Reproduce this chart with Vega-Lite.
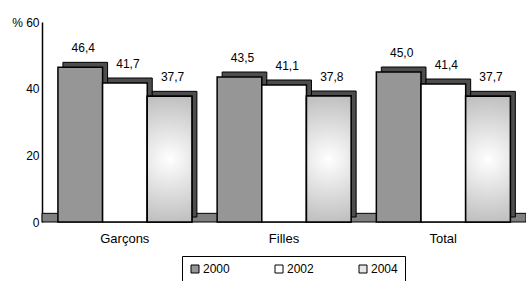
{
  "$schema": "https://vega.github.io/schema/vega-lite/v6.json",
  "width": 484,
  "height": 200,
  "autosize": {"type": "none"},
  "padding": {"left": 42, "top": 22, "right": 0, "bottom": 59},
  "background": "white",
  "config": {
    "font": "Liberation Sans",
    "view": {"stroke": null},
    "locale": {"number": {"decimal": ",", "thousands": " ", "grouping": [3], "currency": ["", " €"]}}
  },
  "data": {
    "values": [
      {"cat": "Garçons", "year": "2000", "value": 46.4},
      {"cat": "Garçons", "year": "2002", "value": 41.7},
      {"cat": "Garçons", "year": "2004", "value": 37.7},
      {"cat": "Filles", "year": "2000", "value": 43.5},
      {"cat": "Filles", "year": "2002", "value": 41.1},
      {"cat": "Filles", "year": "2004", "value": 37.8},
      {"cat": "Total", "year": "2000", "value": 45.0},
      {"cat": "Total", "year": "2002", "value": 41.4},
      {"cat": "Total", "year": "2004", "value": 37.7}
    ]
  },
  "resolve": {"scale": {"xOffset": "independent"}},
  "layer": [
    {
      "data": {"values": [{"floor": 0}]},
      "mark": {"type": "rect", "color": "#808080", "opacity": 1, "stroke": "#000", "strokeWidth": 1},
      "encoding": {
        "y": {"datum": 0, "type": "quantitative", "scale": {"domain": [0, 60], "nice": false},
          "axis": {"title": null, "values": [0, 20, 40, 60], "grid": false, "ticks": false, "domainColor": "#000", "domainWidth": 1.5, "labelFontSize": 12, "labelColor": "#000", "labelPadding": 3,
            "labelExpr": "datum.value == 60 ? '% 60' : datum.label"}},
        "y2": {"datum": 2.6}
      }
    },
    {
      "mark": {"type": "bar", "yOffset": -5, "color": "#4d4d4d", "stroke": "#000", "strokeWidth": 1},
      "encoding": {
        "x": {"field": "cat", "type": "nominal", "sort": ["Garçons", "Filles", "Total"],
          "scale": {"paddingInner": 0.16, "paddingOuter": 0.1},
          "axis": {"title": null, "labelAngle": 0, "ticks": false, "domain": false, "labelFontSize": 13, "labelColor": "#000", "labelPadding": 10}},
        "xOffset": {"field": "year", "type": "nominal", "scale": {"type": "band", "range": [5, 139], "paddingInner": 0, "paddingOuter": 0}},
        "y": {"field": "value", "type": "quantitative"}
      }
    },
    {
      "mark": {"type": "bar", "stroke": "#000", "strokeWidth": 1.5},
      "encoding": {
        "x": {"field": "cat", "type": "nominal", "sort": ["Garçons", "Filles", "Total"]},
        "xOffset": {"field": "year", "type": "nominal", "scale": {"type": "band", "range": [0, 134], "paddingInner": 0, "paddingOuter": 0}},
        "y": {"field": "value", "type": "quantitative"},
        "color": {
          "field": "year", "type": "nominal",
          "scale": {"domain": ["2000", "2002", "2004"], "range": ["#969696", "#ffffff", "#e6e6e6"]},
          "legend": {"title": null, "orient": "none", "legendX": 140, "legendY": 234, "direction": "horizontal", "symbolType": "square", "symbolSize": 64, "symbolStrokeColor": "#000", "symbolStrokeWidth": 1, "symbolOpacity": 1,
            "labelFontSize": 12, "labelColor": "#000", "labelOffset": 2, "columnPadding": 43, "strokeColor": "#000", "padding": 7}
        }
      }
    },
    {
      "transform": [{"filter": "datum.year == '2004'"}],
      "mark": {"type": "bar", "stroke": "#000", "strokeWidth": 1.5,
        "fill": {"gradient": "radial", "x1": 0.5, "y1": 0.5, "x2": 0.5, "y2": 0.5, "r1": 0, "r2": 0.6,
          "stops": [{"offset": 0, "color": "#ffffff"}, {"offset": 1, "color": "#b4b4b4"}]}},
      "encoding": {
        "x": {"field": "cat", "type": "nominal", "sort": ["Garçons", "Filles", "Total"]},
        "xOffset": {"field": "year", "type": "nominal", "scale": {"type": "band", "domain": ["2000", "2002", "2004"], "range": [0, 134], "paddingInner": 0, "paddingOuter": 0}},
        "y": {"field": "value", "type": "quantitative"}
      }
    },
    {
      "mark": {"type": "text", "dy": -12, "dx": 3, "fontSize": 12, "color": "#000", "baseline": "bottom"},
      "encoding": {
        "x": {"field": "cat", "type": "nominal", "sort": ["Garçons", "Filles", "Total"]},
        "xOffset": {"field": "year", "type": "nominal", "scale": {"type": "band", "range": [0, 134], "paddingInner": 0, "paddingOuter": 0}},
        "y": {"field": "value", "type": "quantitative"},
        "text": {"field": "value", "type": "quantitative", "format": ".1f"}
      }
    }
  ]
}
